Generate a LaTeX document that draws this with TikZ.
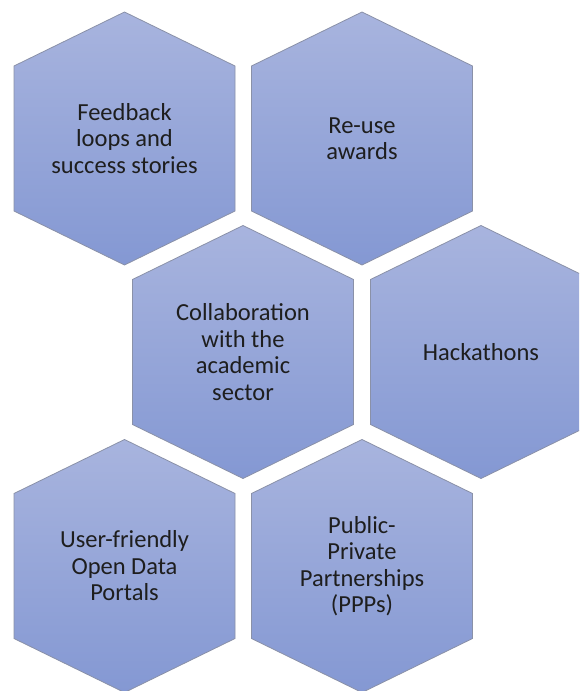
\documentclass[tikz,border=0pt]{standalone}
\usepackage{fontspec}
\setmainfont{Carlito}
\definecolor{hextop}{HTML}{A8B4DE}
\definecolor{hexbot}{HTML}{8498D3}
\definecolor{hexline}{HTML}{8A91A8}
\definecolor{hextext}{HTML}{1E1E1E}
\tikzset{
  hexshape/.style={draw=hexline, line width=0.8pt, top color=hextop, bottom color=hexbot, line join=miter},
  hexlabel/.style={align=center, text=hextext, font=\fontsize{24.5}{26.5}\selectfont, inner sep=0pt}
}
\newcommand\hexcell[4]{%
  \path[hexshape] (#2,#3-126.5) -- (#2+110.5,#3-72.5) -- (#2+110.5,#3+72.5) -- (#2,#3+126.5)
     -- (#2-110.5,#3+72.5) -- (#2-110.5,#3-72.5) -- cycle;
  \node[hexlabel] (#1) at (#2,#3) {#4};
}
\begin{document}
\begin{tikzpicture}[x=1pt,y=-1pt]
\useasboundingbox (0,0) rectangle (579,691);
\clip (0,0) rectangle (579,691);
\fill[white] (0,0) rectangle (579,691);
\hexcell{feedback}{124.5}{138.5}{Feedback\\loops and\\success stories}
\hexcell{reuse}{362}{138.5}{Re-use\\awards}
\hexcell{collab}{243}{352}{Collaboration\\with the\\academic\\sector}
\hexcell{hack}{481}{352}{Hackathons}
\hexcell{portals}{124.5}{566}{User-friendly\\Open Data\\Portals}
\hexcell{ppp}{362}{566}{Public-\\Private\\Partnerships\\(PPPs)}
\end{tikzpicture}
\end{document}
